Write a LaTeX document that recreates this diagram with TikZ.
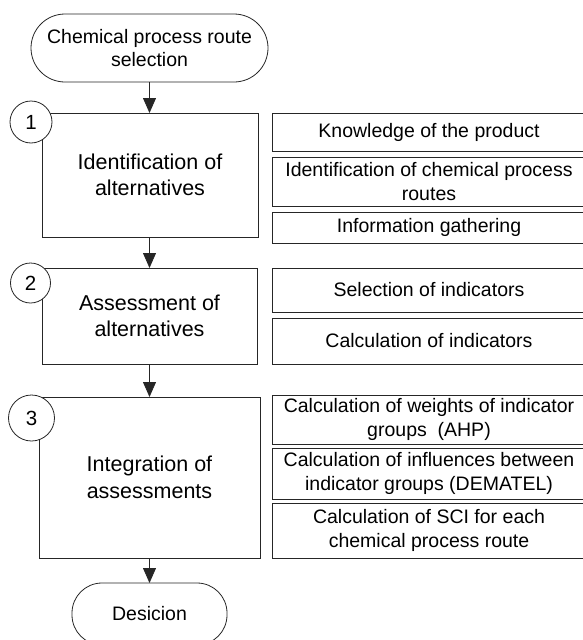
\documentclass[tikz,border=0pt]{standalone}
\usepackage{fontspec}
\setmainfont{Liberation Sans}
\usetikzlibrary{arrows.meta}
\begin{document}
\begin{tikzpicture}[x=1pt,y=-1pt,
  every node/.style={inner sep=0pt,outer sep=0pt,align=center},
  base/.style={draw=black!85,line width=0.8pt,anchor=north west},
  bigtxt/.style={font=\fontsize{21.5}{26.5}\selectfont},
  smtxt/.style={font=\fontsize{19.5}{23.5}\selectfont},
  term/.style={base,smtxt,rounded corners=30pt},
  mainbox/.style={base,bigtxt},
  subbox/.style={base,smtxt,minimum width=314pt},
  numc/.style={draw=black!85,line width=0.8pt,circle,fill=white,font=\fontsize{20.5}{24}\selectfont},
  flow/.style={draw=black!85,line width=0.8pt,-{Triangle[width=13pt,length=15pt]}}]
\useasboundingbox (0,0) rectangle (582,640);
% terminals
\node[term,minimum width=237pt,minimum height=68pt,rounded corners=34pt] (start) at (31,14) {Chemical process route\\selection};
\node[term,minimum width=155pt,minimum height=62pt] (end) at (72,583) {Desicion};
% main boxes
\node[mainbox,minimum width=216pt,minimum height=124pt] (b1) at (42,113) {Identification of\\alternatives};
\node[mainbox,minimum width=215pt,minimum height=96pt] (b2) at (42,268) {Assessment of\\alternatives};
\node[mainbox,minimum width=221pt,minimum height=161pt] (b3) at (39,397) {Integration of\\assessments};
% circles
\node[numc,minimum size=42pt] (c1) at (31,122) {1};
\node[numc,minimum size=40pt] (c2) at (30.5,283) {2};
\node[numc,minimum size=46pt] (c3) at (31.5,418) {3};
% sub boxes
\node[subbox,minimum height=38pt] (r1) at (272,113) {Knowledge of the product};
\node[subbox,minimum height=49pt] (r2) at (272,157) {Identification of chemical process\\routes};
\node[subbox,minimum height=31pt] (r3) at (272,212) {Information gathering};
\node[subbox,minimum height=44pt] (r4) at (272,268) {Selection of indicators};
\node[subbox,minimum height=46pt] (r5) at (272,318) {Calculation of indicators};
\node[subbox,minimum height=49pt] (r6) at (272,395) {Calculation of weights of indicator\\groups\ \ (AHP)};
\node[subbox,minimum height=51pt] (r7) at (272,448) {Calculation of influences between\\indicator groups (DEMATEL)};
\node[subbox,minimum height=55pt] (r8) at (272,503) {Calculation of SCI for each\\chemical process route};
% connectors
\draw[flow] (start.south) -- (start.south |- b1.north);
\draw[flow] (start.south |- b1.south) -- (start.south |- b2.north);
\draw[flow] (start.south |- b2.south) -- (start.south |- b3.north);
\draw[flow] (start.south |- b3.south) -- (start.south |- end.north);
\end{tikzpicture}
\end{document}
